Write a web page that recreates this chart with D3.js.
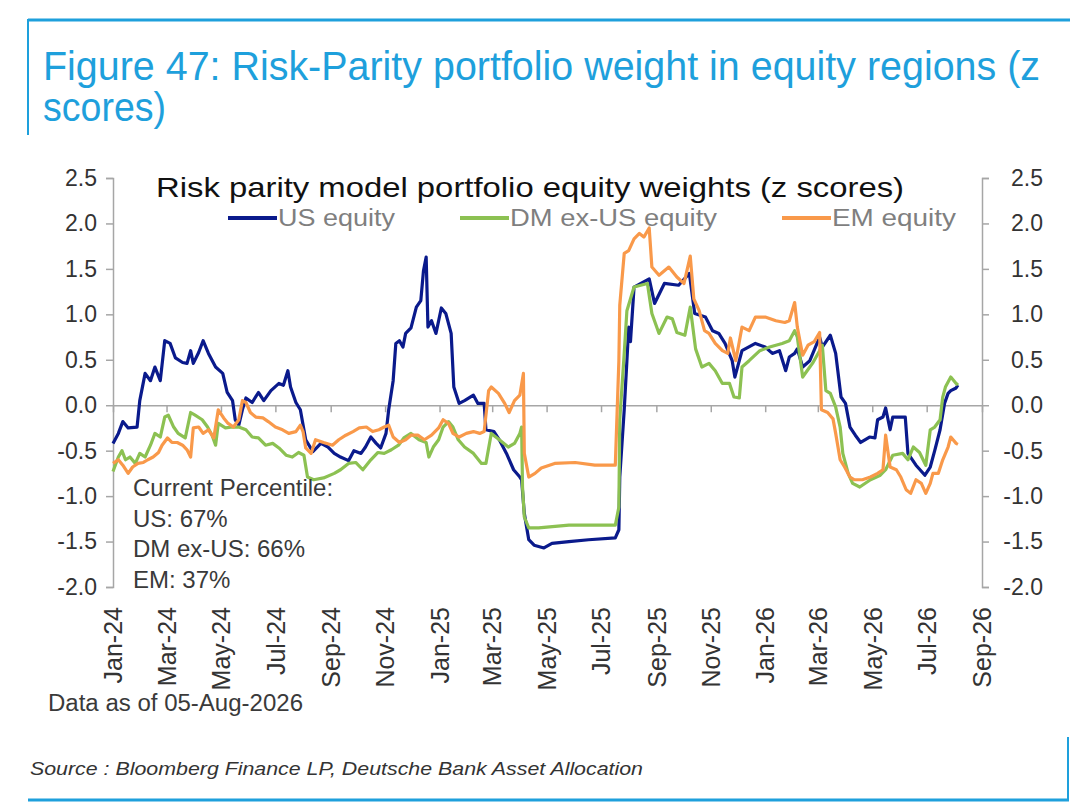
<!DOCTYPE html>
<meta charset="utf-8">
<title>Risk parity equity weights</title>
<style>
    body { margin: 0; background: #fff; }
    svg { display: block; font-family: "Liberation Sans", Arial, Helvetica, sans-serif; }
</style>
<body>
<script src="https://cdnjs.cloudflare.com/ajax/libs/d3/7.8.5/d3.min.js"></script>
<script>

    // z scores, [date, value]
    var usEquity = [
        ["2024-01-01",-0.42],["2024-01-07",-0.31],["2024-01-12",-0.18],["2024-01-18",-0.25],["2024-01-28",-0.24],
        ["2024-01-31",0.05],["2024-02-06",0.35],["2024-02-12",0.27],["2024-02-17",0.42],["2024-02-23",0.27],
        ["2024-02-28",0.71],["2024-03-05",0.68],["2024-03-11",0.52],["2024-03-19",0.47],["2024-03-24",0.46],
        ["2024-03-28",0.60],["2024-03-31",0.46],["2024-04-06",0.58],["2024-04-11",0.71],["2024-04-17",0.57],
        ["2024-04-25",0.42],["2024-05-03",0.35],["2024-05-08",0.14],["2024-05-14",0.05],["2024-05-17",-0.16],
        ["2024-05-21",-0.22],["2024-05-25",-0.05],["2024-05-29",0.08],["2024-06-05",0.03],["2024-06-12",0.14],
        ["2024-06-18",0.05],["2024-06-26",0.16],["2024-07-05",0.24],["2024-07-10",0.22],["2024-07-15",0.38],
        ["2024-07-18",0.20],["2024-07-24",0.03],["2024-07-29",-0.05],["2024-08-04",-0.38],["2024-08-12",-0.51],
        ["2024-08-21",-0.42],["2024-08-29",-0.46],["2024-09-05",-0.53],["2024-09-12",-0.57],["2024-09-21",-0.61],
        ["2024-09-27",-0.50],["2024-10-05",-0.53],["2024-10-10",-0.46],["2024-10-16",-0.35],["2024-10-22",-0.42],
        ["2024-10-27",-0.47],["2024-11-02",-0.31],["2024-11-05",-0.05],["2024-11-10",0.27],["2024-11-13",0.68],
        ["2024-11-17",0.71],["2024-11-21",0.64],["2024-11-24",0.79],["2024-11-30",0.85],["2024-12-06",1.08],
        ["2024-12-11",1.15],["2024-12-14",1.48],["2024-12-17",1.63],["2024-12-19",0.86],["2024-12-23",0.93],
        ["2024-12-28",0.79],["2025-01-03",1.07],["2025-01-08",1.01],["2025-01-14",0.79],["2025-01-17",0.20],
        ["2025-01-23",0.02],["2025-01-29",0.05],["2025-02-08",0.11],["2025-02-13",0.02],["2025-02-20",0.02],
        ["2025-02-22",-0.27],["2025-03-03",-0.29],["2025-03-09",-0.38],["2025-03-17",-0.53],["2025-03-25",-0.71],
        ["2025-04-01",-0.79],["2025-04-03",-0.82],["2025-04-06",-1.19],["2025-04-11",-1.48],["2025-04-17",-1.54],
        ["2025-04-28",-1.57],["2025-05-07",-1.52],["2025-05-26",-1.50],["2025-06-17",-1.48],["2025-07-17",-1.46],
        ["2025-07-21",-1.37],["2025-07-22",-0.79],["2025-07-27",-0.05],["2025-07-30",0.49],["2025-08-01",0.86],
        ["2025-08-03",0.70],["2025-08-07",1.30],["2025-08-24",1.39],["2025-08-30",1.12],["2025-09-10",1.34],
        ["2025-09-26",1.32],["2025-10-08",1.45],["2025-10-14",1.01],["2025-10-26",0.97],["2025-11-03",0.82],
        ["2025-11-10",0.79],["2025-11-17",0.68],["2025-11-25",0.49],["2025-11-28",0.31],["2025-12-06",0.60],
        ["2025-12-21",0.68],["2026-01-01",0.64],["2026-01-09",0.57],["2026-01-17",0.60],["2026-01-24",0.38],
        ["2026-01-28",0.53],["2026-02-03",0.57],["2026-02-06",0.62],["2026-02-12",0.42],["2026-02-20",0.49],
        ["2026-03-03",0.75],["2026-03-06",0.64],["2026-03-15",0.77],["2026-03-21",0.57],["2026-03-27",0.09],
        ["2026-04-01",0.02],["2026-04-06",-0.24],["2026-04-12",-0.33],["2026-04-18",-0.41],["2026-04-28",-0.35],
        ["2026-05-04",-0.36],["2026-05-07",-0.16],["2026-05-13",-0.13],["2026-05-16",-0.03],["2026-05-21",-0.27],
        ["2026-05-24",-0.13],["2026-06-07",-0.13],["2026-06-10",-0.53],["2026-06-19",-0.66],["2026-06-29",-0.77],
        ["2026-07-05",-0.68],["2026-07-10",-0.50],["2026-07-16",-0.27],["2026-07-21",0.02],["2026-07-25",0.13],
        ["2026-07-28",0.16],["2026-08-03",0.19],["2026-08-05",0.22]
    ];

    var dmExUsEquity = [
        ["2024-01-01",-0.73],["2024-01-07",-0.57],["2024-01-11",-0.50],["2024-01-15",-0.60],["2024-01-20",-0.57],
        ["2024-01-26",-0.64],["2024-01-31",-0.53],["2024-02-06",-0.57],["2024-02-12",-0.44],["2024-02-17",-0.31],
        ["2024-02-23",-0.35],["2024-02-28",-0.13],["2024-03-03",-0.11],["2024-03-09",-0.24],["2024-03-14",-0.31],
        ["2024-03-22",-0.36],["2024-03-28",-0.08],["2024-04-02",-0.11],["2024-04-10",-0.16],["2024-04-16",-0.24],
        ["2024-04-21",-0.33],["2024-04-25",-0.44],["2024-04-28",-0.20],["2024-05-06",-0.25],["2024-05-14",-0.24],
        ["2024-05-21",-0.24],["2024-05-29",-0.27],["2024-06-05",-0.35],["2024-06-12",-0.36],["2024-06-20",-0.44],
        ["2024-06-28",-0.42],["2024-07-05",-0.47],["2024-07-13",-0.55],["2024-07-20",-0.57],["2024-07-27",-0.52],
        ["2024-08-02",-0.55],["2024-08-06",-0.79],["2024-08-13",-0.82],["2024-08-24",-0.80],["2024-09-05",-0.75],
        ["2024-09-12",-0.71],["2024-09-21",-0.64],["2024-09-29",-0.63],["2024-10-07",-0.71],["2024-10-16",-0.60],
        ["2024-10-24",-0.52],["2024-10-31",-0.53],["2024-11-08",-0.49],["2024-11-16",-0.44],["2024-11-22",-0.36],
        ["2024-11-30",-0.31],["2024-12-09",-0.38],["2024-12-17",-0.41],["2024-12-20",-0.57],["2024-12-25",-0.46],
        ["2024-12-31",-0.38],["2025-01-05",-0.24],["2025-01-11",-0.18],["2025-01-16",-0.24],["2025-01-22",-0.38],
        ["2025-01-29",-0.46],["2025-02-08",-0.53],["2025-02-17",-0.64],["2025-02-22",-0.64],["2025-02-28",-0.31],
        ["2025-03-09",-0.38],["2025-03-19",-0.46],["2025-03-26",-0.42],["2025-04-01",-0.31],["2025-04-03",-0.24],
        ["2025-04-04",-0.90],["2025-04-06",-1.23],["2025-04-11",-1.35],["2025-04-22",-1.35],["2025-05-26",-1.32],
        ["2025-07-17",-1.32],["2025-07-21",-1.12],["2025-07-22",-0.16],["2025-07-27",0.57],["2025-07-30",1.04],
        ["2025-08-07",1.30],["2025-08-22",1.34],["2025-08-27",1.01],["2025-09-04",0.79],["2025-09-13",0.97],
        ["2025-09-19",0.95],["2025-09-24",0.80],["2025-10-03",0.77],["2025-10-09",1.08],["2025-10-15",0.62],
        ["2025-10-22",0.42],["2025-10-30",0.46],["2025-11-06",0.38],["2025-11-14",0.24],["2025-11-22",0.24],
        ["2025-11-27",0.09],["2025-12-03",0.08],["2025-12-06",0.42],["2025-12-14",0.49],["2025-12-26",0.60],
        ["2026-01-06",0.64],["2026-01-20",0.68],["2026-01-28",0.71],["2026-02-03",0.82],["2026-02-06",0.75],
        ["2026-02-12",0.31],["2026-02-20",0.42],["2026-02-23",0.46],["2026-03-03",0.60],["2026-03-06",0.66],
        ["2026-03-10",0.16],["2026-03-15",0.13],["2026-03-21",-0.02],["2026-03-26",-0.24],["2026-03-29",-0.53],
        ["2026-04-04",-0.75],["2026-04-09",-0.86],["2026-04-17",-0.90],["2026-04-29",-0.82],["2026-05-10",-0.77],
        ["2026-05-16",-0.71],["2026-05-24",-0.55],["2026-06-04",-0.53],["2026-06-10",-0.60],["2026-06-16",-0.46],
        ["2026-06-23",-0.52],["2026-06-30",-0.66],["2026-07-05",-0.27],["2026-07-10",-0.24],["2026-07-16",-0.16],
        ["2026-07-19",0.09],["2026-07-22",0.20],["2026-07-28",0.31],["2026-08-03",0.24],["2026-08-05",0.22]
    ];

    var emEquity = [
        ["2024-01-01",-0.64],["2024-01-07",-0.60],["2024-01-12",-0.66],["2024-01-18",-0.75],["2024-01-23",-0.68],
        ["2024-01-29",-0.64],["2024-02-04",-0.63],["2024-02-09",-0.60],["2024-02-15",-0.57],["2024-02-21",-0.52],
        ["2024-02-25",-0.44],["2024-03-02",-0.36],["2024-03-07",-0.41],["2024-03-13",-0.41],["2024-03-19",-0.44],
        ["2024-03-24",-0.49],["2024-03-28",-0.57],["2024-03-31",-0.25],["2024-04-06",-0.24],["2024-04-11",-0.31],
        ["2024-04-17",-0.27],["2024-04-23",-0.36],["2024-04-28",-0.05],["2024-05-04",-0.14],["2024-05-09",-0.20],
        ["2024-05-15",-0.24],["2024-05-21",-0.16],["2024-05-25",0.05],["2024-05-29",0.03],["2024-06-03",-0.08],
        ["2024-06-09",-0.13],["2024-06-17",-0.14],["2024-06-23",-0.18],["2024-07-01",-0.24],["2024-07-09",-0.27],
        ["2024-07-16",-0.31],["2024-07-24",-0.29],["2024-07-29",-0.22],["2024-08-01",-0.29],["2024-08-04",-0.47],
        ["2024-08-10",-0.53],["2024-08-15",-0.38],["2024-08-24",-0.41],["2024-09-03",-0.44],["2024-09-10",-0.38],
        ["2024-09-18",-0.33],["2024-09-26",-0.29],["2024-10-03",-0.25],["2024-10-11",-0.24],["2024-10-18",-0.29],
        ["2024-10-25",-0.27],["2024-10-31",-0.24],["2024-11-05",-0.22],["2024-11-10",-0.35],["2024-11-17",-0.41],
        ["2024-11-24",-0.38],["2024-11-30",-0.33],["2024-12-08",-0.33],["2024-12-15",-0.38],["2024-12-23",-0.33],
        ["2024-12-31",-0.25],["2025-01-05",-0.16],["2025-01-11",-0.20],["2025-01-16",-0.31],["2025-01-23",-0.35],
        ["2025-01-31",-0.31],["2025-02-08",-0.29],["2025-02-15",-0.31],["2025-02-20",-0.29],["2025-02-25",0.16],
        ["2025-02-28",0.20],["2025-03-08",0.13],["2025-03-15",0.02],["2025-03-20",-0.08],["2025-03-26",0.05],
        ["2025-04-01",0.11],["2025-04-05",0.35],["2025-04-06",-0.53],["2025-04-11",-0.79],["2025-04-18",-0.75],
        ["2025-04-25",-0.69],["2025-05-10",-0.64],["2025-06-02",-0.63],["2025-06-24",-0.66],["2025-07-17",-0.66],
        ["2025-07-21",0.49],["2025-07-22",1.10],["2025-07-27",1.67],["2025-08-01",1.70],["2025-08-07",1.83],
        ["2025-08-13",1.89],["2025-08-18",1.85],["2025-08-24",1.95],["2025-08-27",1.52],["2025-09-04",1.43],
        ["2025-09-15",1.52],["2025-09-24",1.41],["2025-10-02",1.34],["2025-10-09",1.64],["2025-10-13",1.17],
        ["2025-10-19",1.04],["2025-10-25",0.82],["2025-10-30",0.79],["2025-11-06",0.68],["2025-11-14",0.60],
        ["2025-11-20",0.57],["2025-11-23",0.74],["2025-11-29",0.49],["2025-12-06",0.86],["2025-12-14",0.82],
        ["2025-12-21",0.97],["2026-01-01",0.97],["2026-01-13",0.93],["2026-01-23",0.91],["2026-01-28",0.93],
        ["2026-02-03",1.13],["2026-02-06",0.86],["2026-02-12",0.55],["2026-02-18",0.66],["2026-02-25",0.70],
        ["2026-03-03",0.80],["2026-03-05",-0.05],["2026-03-12",-0.08],["2026-03-18",-0.15],["2026-03-21",-0.31],
        ["2026-03-26",-0.60],["2026-03-31",-0.68],["2026-04-06",-0.79],["2026-04-11",-0.82],["2026-04-20",-0.82],
        ["2026-04-29",-0.79],["2026-05-07",-0.75],["2026-05-13",-0.71],["2026-05-16",-0.33],["2026-05-21",-0.68],
        ["2026-05-28",-0.71],["2026-06-02",-0.79],["2026-06-08",-0.93],["2026-06-13",-0.97],["2026-06-19",-0.82],
        ["2026-06-25",-0.86],["2026-06-30",-0.97],["2026-07-05",-0.86],["2026-07-08",-0.75],["2026-07-14",-0.75],
        ["2026-07-19",-0.60],["2026-07-25",-0.46],["2026-07-28",-0.35],["2026-08-03",-0.42],["2026-08-05",-0.43]
    ];

    var seriesNames = ["US equity", "DM ex-US equity", "EM equity"];
    var seriesColors = ["#0a1a8c", "#8cc152", "#f9994a"];
    var yTicks = [-2.0, -1.5, -1.0, -0.5, 0.0, 0.5, 1.0, 1.5, 2.0, 2.5];
    var percentileLines = ["Current Percentile:", "US: 67%", "DM ex-US: 66%", "EM: 37%"];

    var width = 1080,
        height = 807,
        blue = "#1ea0dc",
        axisGrey = "#a6a6a6",
        font = "Liberation Sans, Arial, sans-serif";

    var parse = d3.timeParse("%Y-%m-%d");
    var series = [usEquity, dmExUsEquity, emEquity].map(function (s) {
        return s.map(function (d) { return { date: parse(d[0]), value: d[1] }; });
    });

    var x = d3.scaleTime()
        .domain([parse("2024-01-01"), parse("2026-09-01")])
        .range([113, 982]);

    var y = d3.scaleLinear()
        .domain([-2, 2.5])
        .range([587, 178]);

    var svg = d3.select("body").append("svg")
        .attr("width", width)
        .attr("height", height);

    // frame lines
    svg.append("line").attr("x1", 28).attr("x2", 1070).attr("y1", 20).attr("y2", 20)
        .attr("stroke", blue).attr("stroke-width", 3);
    svg.append("line").attr("x1", 28).attr("x2", 28).attr("y1", 19).attr("y2", 135)
        .attr("stroke", blue).attr("stroke-width", 2);
    svg.append("line").attr("x1", 28).attr("x2", 1069).attr("y1", 800).attr("y2", 800)
        .attr("stroke", blue).attr("stroke-width", 3);
    svg.append("line").attr("x1", 1068).attr("x2", 1068).attr("y1", 737).attr("y2", 801)
        .attr("stroke", blue).attr("stroke-width", 2);

    // figure title
    svg.append("text").attr("x", 43).attr("y", 80)
        .attr("font-size", 40).attr("fill", blue)
        .attr("textLength", 997).attr("lengthAdjust", "spacingAndGlyphs")
        .text("Figure 47: Risk-Parity portfolio weight in equity regions (z");
    svg.append("text").attr("x", 43).attr("y", 121)
        .attr("font-size", 40).attr("fill", blue)
        .attr("textLength", 123).attr("lengthAdjust", "spacingAndGlyphs")
        .text("scores)");

    // chart title
    svg.append("text").attr("x", 156).attr("y", 197)
        .attr("font-size", 28).attr("fill", "#111")
        .attr("textLength", 748).attr("lengthAdjust", "spacingAndGlyphs")
        .text("Risk parity model portfolio equity weights (z scores)");

    // axes
    var yFmt = function (d) { return d3.format(".1f")(d).replace("\u2212", "-"); };
    var left = svg.append("g").attr("transform", "translate(113,0)")
        .call(d3.axisLeft(y).tickValues(yTicks).tickFormat(yFmt).tickSize(7).tickPadding(9));
    var right = svg.append("g").attr("transform", "translate(982,0)")
        .call(d3.axisRight(y).tickValues(yTicks).tickFormat(yFmt).tickSize(7).tickPadding(9));
    right.selectAll(".tick text").attr("text-anchor", "end").attr("x", 61);

    [left, right].forEach(function (g) {
        g.select(".domain").attr("stroke", axisGrey).attr("stroke-width", 1.5);
        g.selectAll(".tick line").attr("stroke", axisGrey).attr("stroke-width", 1.5);
        g.selectAll(".tick text").attr("font-size", 23).attr("fill", "#333")
            .attr("font-family", font);
    });

    // date axis sits on the zero line, labels below the plot
    var y0 = y(0);
    var bottom = svg.append("g").attr("transform", "translate(0," + y0 + ")")
        .call(d3.axisBottom(x).ticks(d3.timeMonth.every(2)).tickFormat(d3.timeFormat("%b-%y"))
            .tickSize(7).tickSizeOuter(0));
    bottom.select(".domain").attr("stroke", axisGrey).attr("stroke-width", 1.5);
    bottom.selectAll(".tick line").attr("stroke", axisGrey).attr("stroke-width", 1.5);
    bottom.selectAll(".tick text")
        .attr("y", null).attr("dy", "0.35em").attr("x", 0)
        .attr("text-anchor", "end")
        .attr("transform", "translate(0," + (607 - y0) + ") rotate(-90)")
        .attr("font-size", 25).attr("fill", "#333")
        .attr("font-family", font);

    // series
    var line = d3.line()
        .x(function (d) { return x(d.date); })
        .y(function (d) { return y(d.value); });

    svg.append("g").selectAll("path")
        .data(series)
        .enter().append("path")
        .attr("d", line)
        .attr("fill", "none")
        .attr("stroke", function (d, i) { return seriesColors[i]; })
        .attr("stroke-width", 3.2)
        .attr("stroke-linejoin", "round");

    // legend
    var legendX = [228, 460, 782],
        legendLen = [117, 207, 124];
    var legend = svg.append("g").selectAll("g")
        .data(seriesNames)
        .enter().append("g")
        .attr("transform", function (d, i) { return "translate(" + legendX[i] + ",218)"; });
    legend.append("line").attr("x1", 0).attr("x2", 49)
        .attr("stroke", function (d, i) { return seriesColors[i]; })
        .attr("stroke-width", 4);
    legend.append("text").attr("x", 50).attr("y", 8)
        .attr("font-size", 23).attr("fill", "#7f7f7f")
        .attr("textLength", function (d, i) { return legendLen[i]; })
        .attr("lengthAdjust", "spacingAndGlyphs")
        .text(function (d) { return d; });

    // percentile note
    svg.append("g").selectAll("text")
        .data(percentileLines)
        .enter().append("text")
        .attr("x", 133)
        .attr("y", function (d, i) { return 496 + i * 30.5; })
        .attr("font-size", 24).attr("fill", "#3a3a3a")
        .text(function (d) { return d; });

    svg.append("text").attr("x", 48).attr("y", 711)
        .attr("font-size", 23).attr("fill", "#3a3a3a")
        .attr("textLength", 255).attr("lengthAdjust", "spacingAndGlyphs")
        .text("Data as of 05-Aug-2026");

    svg.append("text").attr("x", 30).attr("y", 775)
        .attr("font-size", 19).attr("font-style", "italic").attr("fill", "#333")
        .attr("textLength", 613).attr("lengthAdjust", "spacingAndGlyphs")
        .text("Source : Bloomberg Finance LP, Deutsche Bank Asset Allocation");

</script>
